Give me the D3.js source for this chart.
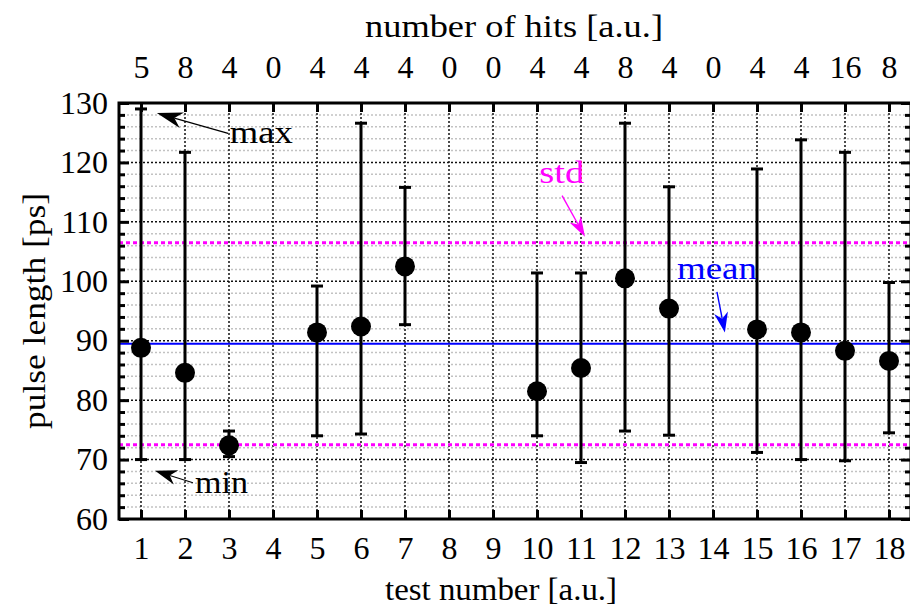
<!DOCTYPE html>
<html>
<head>
<meta charset="utf-8">
<script src="https://cdn.jsdelivr.net/npm/d3@7"></script>
<style>
  html, body { margin: 0; padding: 0; background: #fff; }
</style>
</head>
<body>
<svg id="chart" width="910" height="611" font-family="Liberation Serif"></svg>
<script>
// Pulse length statistics per test run
const tests = d3.range(1, 19);
const hits  = [5, 8, 4, 0, 4, 4, 4, 0, 0, 4, 4, 8, 4, 0, 4, 4, 16, 8];
const means = [88.8, 84.6, 72.4, null, 91.4, 92.4, 102.5, null, null, 81.5, 85.4, 100.5, 95.4, null, 91.9, 91.4, 88.3, 86.6];
const maxs  = [129.0, 121.7, 74.8, null, 99.2, 126.6, 115.8, null, null, 101.4, 101.4, 126.6, 115.9, null, 118.9, 123.8, 121.7, 99.8];
const mins  = [70.0, 70.0, 70.5, null, 74.0, 74.3, 92.7, null, null, 74.0, 69.5, 74.8, 74.1, null, 71.2, 70.0, 69.8, 74.5];
const overallMean = 89.5;
const overallStd  = 17.0;
const yMajorTicks = d3.range(60, 131, 10);
const yMinorTicks = d3.range(60, 131, 2).filter(v => v % 10 !== 0);

const FONT = '"Liberation Serif"';
const FS = 32;
const svg = d3.select("#chart");
const x = d3.scaleLinear().domain([0.5, 18.5]).range([119, 911]);
const y = d3.scaleLinear().domain([60, 130]).range([519, 103]);
const [x0, x1] = x.range();
const [y0, y1] = y.range();

const rows = tests.map((t, i) => ({ t, hits: hits[i], mean: means[i], max: maxs[i], min: mins[i] }))
  .filter(d => d.mean !== null);

// grid
const grid = svg.append("g");
grid.selectAll(".minor").data(yMinorTicks).join("line")
  .attr("x1", x0).attr("x2", x1).attr("y1", d => y(d)).attr("y2", d => y(d))
  .attr("stroke", "#c2c2c2").attr("stroke-width", 1.5).attr("stroke-dasharray", "2,2");
grid.selectAll(".major").data(yMajorTicks.slice(1, -1)).join("line")
  .attr("x1", x0).attr("x2", x1).attr("y1", d => y(d)).attr("y2", d => y(d))
  .attr("stroke", "#111").attr("stroke-width", 1.5).attr("stroke-dasharray", "2,2");
grid.selectAll(".vert").data(tests).join("line")
  .attr("x1", d => x(d)).attr("x2", d => x(d)).attr("y1", y0).attr("y2", y1)
  .attr("stroke", "#111").attr("stroke-width", 1.5).attr("stroke-dasharray", "2,2");

// mean and ±std reference lines
svg.selectAll(".std").data([overallMean + overallStd, overallMean - overallStd]).join("line")
  .attr("x1", x0).attr("x2", x1).attr("y1", d => y(d)).attr("y2", d => y(d))
  .attr("stroke", "#ff00ff").attr("stroke-width", 3).attr("stroke-dasharray", "4,3");
svg.append("line")
  .attr("x1", x0).attr("x2", x1).attr("y1", y(overallMean)).attr("y2", y(overallMean))
  .attr("stroke", "#0000ff").attr("stroke-width", 2);

// error bars (min..max) with caps
const bars = svg.append("g").attr("stroke", "#000").attr("stroke-width", 3);
bars.selectAll(".stem").data(rows).join("line")
  .attr("x1", d => x(d.t)).attr("x2", d => x(d.t)).attr("y1", d => y(d.min)).attr("y2", d => y(d.max));
bars.selectAll(".capHi").data(rows).join("line")
  .attr("x1", d => x(d.t) - 6).attr("x2", d => x(d.t) + 6).attr("y1", d => y(d.max)).attr("y2", d => y(d.max));
bars.selectAll(".capLo").data(rows).join("line")
  .attr("x1", d => x(d.t) - 6).attr("x2", d => x(d.t) + 6).attr("y1", d => y(d.min)).attr("y2", d => y(d.min));
svg.selectAll(".pt").data(rows).join("circle")
  .attr("cx", d => x(d.t)).attr("cy", d => y(d.mean)).attr("r", 10).attr("fill", "#000");

// axes: ticks point inward
function styleAxis(g, labels) {
  g.select(".domain").remove();
  g.attr("font-family", null).attr("font-size", null);
  g.selectAll(".tick line").attr("stroke", "#000").attr("stroke-width", 3);
  g.selectAll("text").style("font-family", FONT).attr("font-size", FS).attr("fill", "#000");
  if (!labels) g.selectAll("text").remove();
}
svg.append("g").attr("transform", `translate(${x0},0)`)
  .call(d3.axisLeft(y).tickValues(yMajorTicks).tickSize(-10).tickPadding(11))
  .call(g => styleAxis(g, true));
svg.append("g").attr("transform", `translate(${x0},0)`)
  .call(d3.axisLeft(y).tickValues(yMinorTicks).tickSize(-6))
  .call(g => styleAxis(g, false));
svg.append("g").attr("transform", `translate(${x1},0)`)
  .call(d3.axisRight(y).tickValues(yMajorTicks).tickSize(-10))
  .call(g => styleAxis(g, false));
svg.append("g").attr("transform", `translate(${x1},0)`)
  .call(d3.axisRight(y).tickValues(yMinorTicks).tickSize(-6))
  .call(g => styleAxis(g, false));
svg.append("g").attr("transform", `translate(0,${y0})`)
  .call(d3.axisBottom(x).tickValues(tests).tickFormat(d3.format("d")).tickSize(-9).tickPadding(17))
  .call(g => styleAxis(g, true));
svg.append("g").attr("transform", `translate(0,${y1})`)
  .call(d3.axisTop(x).tickValues(tests).tickFormat((d, i) => hits[i]).tickSize(-9).tickPadding(25))
  .call(g => styleAxis(g, true));

// frame
svg.append("rect").attr("x", x0).attr("y", y1).attr("width", x1 - x0).attr("height", y0 - y1)
  .attr("fill", "none").attr("stroke", "#000").attr("stroke-width", 3);

// text helper
function label(px, py, str, opts = {}) {
  const t = svg.append("text").attr("x", px).attr("y", py)
    .style("font-family", FONT).attr("font-size", FS)
    .attr("fill", opts.color || "#000")
    .attr("text-anchor", opts.anchor || "start")
    .text(str);
  if (opts.len) t.attr("textLength", opts.len).attr("lengthAdjust", "spacingAndGlyphs");
  if (opts.transform) t.attr("transform", opts.transform);
  return t;
}

// axis titles
label(501, 600, "test number [a.u.]", { anchor: "middle", len: 232 });
label(514, 37, "number of hits [a.u.]", { anchor: "middle", len: 298 });
label(0, 0, "pulse length [ps]", { anchor: "middle", len: 236, transform: `translate(45,${(y0 + y1) / 2}) rotate(-90)` });

// annotations with stealth arrowheads
function arrow(from, to, color, len, half, width) {
  const [fx, fy] = from, [tx, ty] = to;
  const dx = tx - fx, dy = ty - fy, d = Math.hypot(dx, dy);
  const ux = dx / d, uy = dy / d, px = -uy, py = ux;
  const bx = tx - ux * len, by = ty - uy * len;
  const nx = tx - ux * len * 0.7, ny = ty - uy * len * 0.7;
  svg.append("line").attr("x1", fx).attr("y1", fy).attr("x2", nx).attr("y2", ny)
    .attr("stroke", color).attr("stroke-width", width);
  svg.append("path")
    .attr("d", `M${tx},${ty}L${bx + px * half},${by + py * half}L${nx},${ny}L${bx - px * half},${by - py * half}Z`)
    .attr("fill", color);
}
const notes = [
  { label: "max",  color: "#000",    tx: 3.02,  ty: 123.3, w: 63, from: [2.98, 124.9], to: [1.36, 128.3], len: 26, half: 8,   lw: 1.2 },
  { label: "min",  color: "#000",    tx: 2.23,  ty: 64.4,  w: 53, from: [2.18, 66.1],  to: [1.32, 68.1],  len: 22, half: 7.5, lw: 1.2 },
  { label: "std",  color: "#ff00ff", tx: 10.05, ty: 116.5, w: 45, from: [10.57, 114.4], to: [11.09, 107.5], len: 20, half: 6.5, lw: 1.4 },
  { label: "mean", color: "#0000ff", tx: 13.18, ty: 100.4, w: 80, from: [14.09, 98.2], to: [14.27, 91.4], len: 20, half: 7,   lw: 1.4 }
];
notes.forEach(n => {
  label(x(n.tx), y(n.ty), n.label, { color: n.color, len: n.w });
  arrow([x(n.from[0]), y(n.from[1])], [x(n.to[0]), y(n.to[1])], n.color, n.len, n.half, n.lw);
});
</script>
</body>
</html>
